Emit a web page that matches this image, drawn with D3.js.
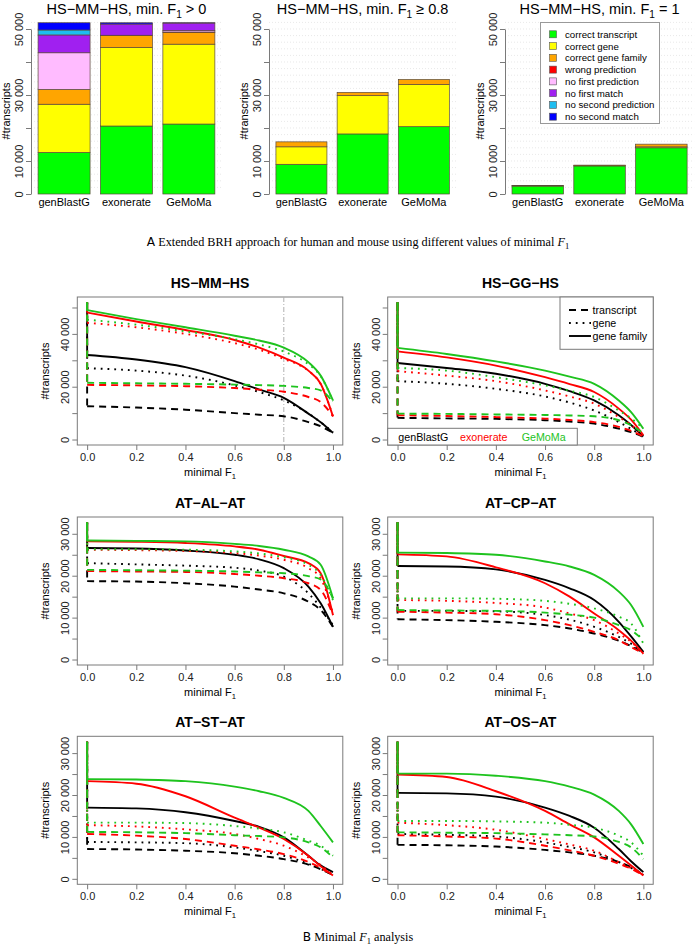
<!DOCTYPE html>
<html>
<head>
<meta charset="utf-8">
<script src="https://cdn.jsdelivr.net/npm/d3@7"></script>
<style>
body { margin: 0; background: #fff; }
svg { display: block; font-family: "Liberation Sans", Arial, sans-serif; }
</style>
</head>
<body>
<svg id="fig" width="697" height="946"></svg>
<script>
// ---- data (values in thousands of transcripts) ----
const methods = ["genBlastG", "exonerate", "GeMoMa"];
const methodColors = ["#000000", "#ff0000", "#1ec31e"];

const categories = ["correct transcript", "correct gene", "correct gene family", "wrong prediction",
    "no first prediction", "no first match", "no second prediction", "no second match"];
const catColors = ["#00ff00", "#ffff00", "#ffa500", "#ff0000", "#ffbbff", "#a020f0", "#1ebdf0", "#0000ff"];

// stacked segments per method, in category order
const barsMin0 = [
    [12.6, 14.6, 4.5, 0, 11.1, 5.4, 1.5, 2.2],
    [20.6, 23.8, 3.6, 0.1, 0, 3.4, 0, 0.4],
    [21.2, 24.2, 3.6, 0.1, 0.4, 2.3, 0, 0.1]
];
const barsMin08 = [
    [9.0, 5.3, 1.5],
    [18.2, 11.6, 1.0],
    [20.4, 12.8, 1.5]
];
const barsMin1 = [
    [2.4, 0.1, 0.1],
    [8.5, 0.1, 0.15],
    [14.0, 0.3, 0.8]
];
const barTicks = [0, 10, 20, 30, 40, 50];
const barTickLabels = [0, 10, 30, 50];
const barGrid = d3.range(2, 53, 2);

const lineTypes = ["transcript", "gene", "gene family"];
const f1Grid = [0, 0.2, 0.4, 0.6, 0.7, 0.8, 0.9, 0.95, 1.0];
const f1Ticks = [0, 0.2, 0.4, 0.6, 0.8, 1.0];

const panelTitles = ["HS−MM−HS", "HS−GG−HS", "AT−AL−AT", "AT−CP−AT", "AT−ST−AT", "AT−OS−AT"];
const panelTotals = [51.9, 51.9, 32.7, 32.7, 32.7, 32.7];
const hsTicks = [0, 10, 20, 30, 40, 50];
const hsTickLabels = [0, 20, 40];
const atTicks = [0, 5, 10, 15, 20, 25, 30];
const atTickLabels = [0, 10, 20, 30];

// rows: genBlastG, exonerate, GeMoMa ; columns follow f1Grid
const hsmmTranscript = [
    [12.6, 12.1, 11.3, 10.0, 9.4, 8.8, 6.6, 5.0, 2.5],
    [20.7, 20.5, 20.2, 19.5, 18.9, 18.1, 16.1, 14.2, 8.8],
    [21.5, 21.3, 21.1, 20.8, 20.6, 20.3, 19.5, 18.6, 14.2]
];
const hsmmGene = [
    [27.0, 26.1, 24.2, 20.5, 18.0, 14.8, 9.9, 6.5, 2.8],
    [44.2, 42.5, 40.0, 36.5, 34.0, 30.5, 26.0, 21.0, 8.8],
    [45.4, 43.5, 41.0, 38.0, 36.0, 33.3, 28.5, 24.0, 14.5]
];
const hsmmFamily = [
    [32.0, 30.3, 27.4, 22.1, 18.9, 15.8, 9.8, 6.5, 2.5],
    [48.1, 44.7, 41.5, 37.7, 34.8, 31.0, 26.1, 21.1, 8.7],
    [49.0, 45.6, 42.5, 39.3, 37.5, 34.8, 29.3, 24.2, 14.8]
];

const hsggTranscript = [
    [8.2, 8.0, 7.8, 7.3, 6.8, 6.0, 4.1, 2.8, 1.0],
    [9.2, 8.9, 8.5, 7.9, 7.4, 6.6, 4.8, 3.3, 1.2],
    [9.8, 9.7, 9.5, 9.3, 9.1, 8.8, 7.3, 5.4, 2.3]
];
const hsggGene = [
    [22.1, 21.1, 19.2, 16.3, 14.0, 11.0, 6.6, 4.0, 1.2],
    [25.9, 24.2, 22.1, 18.6, 16.3, 13.6, 8.5, 5.5, 1.6],
    [27.1, 26.1, 23.6, 20.5, 18.5, 16.1, 11.0, 8.0, 4.1]
];
const hsggFamily = [
    [29.0, 27.1, 24.9, 21.1, 18.3, 14.8, 9.2, 5.5, 1.2],
    [33.4, 31.1, 28.0, 23.6, 21.0, 18.0, 11.7, 7.5, 1.6],
    [34.7, 32.4, 29.6, 26.1, 23.8, 21.1, 14.8, 10.4, 4.1]
];

const atalTranscript = [
    [18.7, 18.6, 18.2, 17.4, 16.7, 15.8, 13.8, 11.8, 7.8],
    [21.1, 21.0, 20.9, 20.4, 20.0, 19.4, 18.2, 16.6, 10.6],
    [21.4, 21.3, 21.2, 21.0, 20.8, 20.6, 19.9, 19.1, 14.6]
];
const atalGene = [
    [23.0, 22.7, 22.4, 21.9, 21.2, 19.8, 15.8, 12.4, 8.2],
    [26.2, 26.1, 25.9, 25.4, 24.8, 23.8, 21.8, 19.4, 11.0],
    [26.3, 26.3, 26.2, 25.8, 25.3, 24.4, 22.6, 20.2, 14.2]
];
const atalFamily = [
    [26.6, 26.5, 26.0, 25.0, 23.9, 21.8, 17.4, 13.4, 7.8],
    [28.2, 28.1, 27.8, 27.0, 26.2, 24.7, 23.0, 20.6, 10.6],
    [28.4, 28.3, 28.2, 27.6, 27.1, 26.2, 24.6, 22.6, 14.6]
];

const atcpTranscript = [
    [9.6, 9.4, 9.0, 8.2, 7.4, 6.2, 4.5, 3.2, 1.6],
    [11.4, 11.2, 10.8, 9.4, 8.2, 6.6, 4.6, 3.0, 1.4],
    [11.8, 11.7, 11.6, 11.2, 10.7, 10.0, 8.2, 7.0, 4.6]
];
const atcpGene = [
    [11.6, 11.6, 11.5, 10.6, 9.5, 7.8, 5.4, 3.8, 1.8],
    [14.2, 14.0, 13.5, 12.4, 11.0, 9.4, 6.2, 4.2, 1.4],
    [14.6, 14.6, 14.5, 14.0, 13.3, 12.2, 10.2, 8.6, 3.8]
];
const atcpFamily = [
    [22.3, 22.2, 21.5, 19.0, 17.0, 14.2, 9.0, 5.5, 1.8],
    [25.1, 24.6, 22.0, 18.2, 15.0, 11.0, 7.0, 4.5, 1.4],
    [25.5, 25.4, 25.0, 23.4, 22.2, 20.2, 16.2, 13.0, 7.8]
];

const atstTranscript = [
    [7.1, 7.0, 6.7, 6.1, 5.5, 4.7, 3.4, 2.3, 0.9],
    [10.7, 10.3, 9.5, 7.9, 7.0, 5.9, 4.0, 2.6, 0.8],
    [11.2, 11.1, 10.9, 10.4, 10.2, 9.9, 8.7, 7.5, 5.1]
];
const atstGene = [
    [8.8, 8.7, 8.5, 7.5, 6.6, 5.5, 3.6, 2.4, 0.9],
    [12.8, 12.5, 11.8, 10.7, 9.5, 7.9, 5.1, 3.3, 0.9],
    [13.4, 13.4, 13.3, 12.6, 12.0, 11.1, 9.1, 7.9, 5.5]
];
const atstFamily = [
    [17.0, 16.8, 15.9, 13.8, 12.4, 9.9, 5.5, 3.2, 1.6],
    [23.3, 22.7, 19.7, 14.6, 12.2, 9.5, 5.5, 3.0, 0.8],
    [23.8, 23.7, 23.3, 22.0, 20.9, 19.3, 16.2, 12.6, 8.7]
];

const atosTranscript = [
    [8.1, 8.0, 7.7, 6.9, 6.3, 5.5, 4.0, 2.8, 0.9],
    [10.4, 10.1, 9.6, 7.9, 6.8, 5.5, 3.6, 2.4, 0.8],
    [11.1, 11.0, 10.9, 10.6, 10.4, 10.1, 8.8, 7.5, 4.7]
];
const atosGene = [
    [10.7, 10.5, 10.1, 8.7, 7.6, 6.3, 4.0, 2.6, 0.9],
    [13.4, 12.8, 11.7, 9.5, 8.2, 6.7, 4.0, 2.6, 0.9],
    [13.8, 13.8, 13.7, 13.4, 12.9, 12.2, 10.3, 8.7, 5.5]
];
const atosFamily = [
    [20.5, 20.4, 19.6, 17.0, 15.0, 12.2, 7.1, 4.2, 1.6],
    [24.9, 24.3, 20.9, 16.2, 13.0, 9.9, 5.5, 3.2, 0.8],
    [25.1, 25.1, 24.6, 23.3, 22.0, 20.1, 16.2, 13.0, 8.3]
];

// ---- drawing ----
const fig = d3.select("#fig");
const fmtK = v => d3.format(",")(Math.round(v * 1000)).replace(/,/g, " ");
const axisCol = "#7a7a7a";

// text with a subscript "1" after an F
function addParts(sel, parts, size) {
    parts.forEach(p => {
        const t = sel.append("tspan").text(p.t);
        if (p.sub) {
            t.attr("font-size", size * 0.7).attr("dy", size * 0.28);
        } else if (p.after) {
            t.attr("dy", -size * 0.28);
        }
        if (p.italic) t.attr("font-style", "italic");
        if (p.font) t.attr("font-family", p.font);
    });
}

function styleAxis(ax, size) {
    ax.attr("font-family", null).attr("font-size", size);
    ax.select(".domain").attr("stroke", axisCol);
    ax.selectAll(".tick line").attr("stroke", axisCol);
    ax.selectAll(".tick text").attr("fill", "#222");
}

function barChart(axisX, unit, titleParts, data) {
    const x = d3.scaleLinear().domain([0.064, 3.736]).range([axisX, axisX + 3.672 * unit]);
    const y = d3.scaleLinear().domain([0, 50]).range([194, 29]);
    const g = fig.append("g");

    g.selectAll("line.grid").data(barGrid).join("line")
        .attr("x1", x(0.064)).attr("x2", x(3.736))
        .attr("y1", d => y(d)).attr("y2", d => y(d))
        .attr("stroke", "#d9d9d9").attr("stroke-width", 0.6)
        .attr("stroke-dasharray", "1,2");

    data.forEach((segs, i) => {
        const left = 0.2 + i * 1.2;
        const tops = d3.cumsum(segs);
        g.selectAll(null)
            .data(segs.map((v, k) => ({ v: v, k: k, top: tops[k] })).filter(d => d.v > 0))
            .join("rect")
            .attr("x", x(left))
            .attr("width", x(left + 1) - x(left))
            .attr("y", d => y(d.top))
            .attr("height", d => y(d.top - d.v) - y(d.top))
            .attr("fill", d => catColors[d.k])
            .attr("stroke", "#5a4a3a").attr("stroke-width", 0.7);
        g.append("text")
            .attr("x", x(left + 0.5)).attr("y", 206)
            .attr("text-anchor", "middle").attr("font-size", 11)
            .text(methods[i]);
    });

    const ax = g.append("g").attr("transform", `translate(${axisX},0)`)
        .call(d3.axisLeft(y).tickValues(barTicks).tickSize(5).tickSizeOuter(0)
            .tickFormat(d => barTickLabels.includes(d) ? fmtK(d) : ""));
    styleAxis(ax, 11);
    ax.selectAll(".tick text")
        .attr("transform", "rotate(-90)")
        .attr("x", 0).attr("y", -8).attr("dy", 0)
        .attr("text-anchor", "middle");

    g.append("text")
        .attr("transform", `translate(${axisX - 21},111) rotate(-90)`)
        .attr("text-anchor", "middle").attr("font-size", 11)
        .text("#transcripts");

    const title = g.append("text")
        .attr("x", (x.range()[0] + x.range()[1]) / 2).attr("y", 14)
        .attr("text-anchor", "middle").attr("font-size", 14.5);
    addParts(title, titleParts, 14.5);
    return x;
}

barChart(31, 52, [{ t: "HS−MM−HS, min. F" }, { t: "1", sub: true }, { t: " >  0", after: true }], barsMin0);
barChart(269, 51, [{ t: "HS−MM−HS, min. F" }, { t: "1", sub: true }, { t: " ≥  0.8", after: true }], barsMin08);
barChart(505, 51.5, [{ t: "HS−MM−HS, min. F" }, { t: "1", sub: true }, { t: " =  1", after: true }], barsMin1);

// category legend in the third bar chart
const leg = fig.append("g");
leg.append("rect").attr("x", 540.5).attr("y", 22.5).attr("width", 119).attr("height", 101)
    .attr("fill", "#fff").attr("stroke", "#999");
leg.selectAll("rect.sw").data(categories).join("rect")
    .attr("x", 549.5).attr("y", (d, i) => 30.8 + i * 11.77)
    .attr("width", 7).attr("height", 7)
    .attr("fill", (d, i) => catColors[i]).attr("stroke", "#555").attr("stroke-width", 0.6);
leg.selectAll("text").data(categories).join("text")
    .attr("x", 565).attr("y", (d, i) => 37.8 + i * 11.77)
    .attr("font-size", 9.7).text(d => d);

// caption A
const capA = fig.append("text").attr("x", 358).attr("y", 246).attr("text-anchor", "middle")
    .attr("font-family", "'Liberation Serif', 'Times New Roman', serif").attr("font-size", 12.2);
addParts(capA, [
    { t: "A", font: "'DejaVu Sans', sans-serif" },
    { t: "  Extended BRH approach for human and mouse using different values of minimal " },
    { t: "F", italic: true }, { t: "1", sub: true }
], 12.2);

// ---- line panels ----
const panelSeries = [
    [hsmmTranscript, hsmmGene, hsmmFamily],
    [hsggTranscript, hsggGene, hsggFamily],
    [atalTranscript, atalGene, atalFamily],
    [atcpTranscript, atcpGene, atcpFamily],
    [atstTranscript, atstGene, atstFamily],
    [atosTranscript, atosGene, atosFamily]
];
const dashes = ["7,5", "1.8,5", null];
const colLeft = [77.3, 387.7];
const rowTop = [297, 517, 736.3];
const boxW = 265.5, boxH = 148;

function linePanel(p) {
    const left = colLeft[p % 2], top = rowTop[Math.floor(p / 2)];
    const total = panelTotals[p];
    const isHS = p < 2;
    const x = d3.scaleLinear().domain([-0.04, 1.04]).range([left, left + boxW]);
    const y = d3.scaleLinear().domain([-0.04 * total, 1.04 * total]).range([top + boxH, top]);
    const g = fig.append("g");

    g.append("rect").attr("x", left).attr("y", top).attr("width", boxW).attr("height", boxH)
        .attr("fill", "none").attr("stroke", axisCol);

    const ax = g.append("g").attr("transform", `translate(0,${top + boxH})`)
        .call(d3.axisBottom(x).tickValues(f1Ticks).tickSize(5).tickSizeOuter(0).tickFormat(d3.format(".1f")));
    styleAxis(ax, 11);
    ax.select(".domain").remove();
    ax.selectAll(".tick text").attr("y", 8);

    const ticks = isHS ? hsTicks : atTicks;
    const labels = isHS ? hsTickLabels : atTickLabels;
    const ay = g.append("g").attr("transform", `translate(${left},0)`)
        .call(d3.axisLeft(y).tickValues(ticks).tickSize(5).tickSizeOuter(0)
            .tickFormat(d => labels.includes(d) ? fmtK(d) : ""));
    styleAxis(ay, 11);
    ay.select(".domain").remove();
    ay.selectAll(".tick text")
        .attr("transform", "rotate(-90)")
        .attr("x", 0).attr("y", -8).attr("dy", 0)
        .attr("text-anchor", "middle");

    g.append("text")
        .attr("transform", `translate(${left - 28},${top + boxH / 2}) rotate(-90)`)
        .attr("text-anchor", "middle").attr("font-size", 11)
        .text("#transcripts");

    const xl = g.append("text").attr("x", left + boxW / 2).attr("y", top + boxH + 31)
        .attr("text-anchor", "middle").attr("font-size", 11);
    addParts(xl, [{ t: "minimal F" }, { t: "1", sub: true }], 11);

    g.append("text").attr("x", left + boxW / 2).attr("y", top - 9)
        .attr("text-anchor", "middle").attr("font-size", 14).attr("font-weight", "bold")
        .text(panelTitles[p]);

    if (p === 0) {
        g.append("line").attr("x1", x(0.8)).attr("x2", x(0.8))
            .attr("y1", top).attr("y2", top + boxH)
            .attr("stroke", "#b0b0b0").attr("stroke-width", 1)
            .attr("stroke-dasharray", "5,2,1,2");
    }

    const line = d3.line().x((d, i) => x(f1Grid[i])).y(d => y(d)).curve(d3.curveMonotoneX);
    methods.forEach((m, mi) => {
        panelSeries[p].forEach((typeRows, ti) => {
            const vals = typeRows[mi];
            g.append("line")
                .attr("x1", x(0)).attr("x2", x(0))
                .attr("y1", y(total)).attr("y2", y(vals[0]))
                .attr("stroke", methodColors[mi]).attr("stroke-width", 1.9)
                .attr("stroke-dasharray", dashes[ti]);
            g.append("path").attr("d", line(vals))
                .attr("fill", "none")
                .attr("stroke", methodColors[mi]).attr("stroke-width", 1.9)
                .attr("stroke-dasharray", dashes[ti]);
        });
    });

    if (p === 1) {
        const lg = g.append("g");
        lg.append("rect").attr("x", 560).attr("y", top).attr("width", left + boxW - 560).attr("height", 52.3)
            .attr("fill", "#fff").attr("stroke", axisCol);
        lineTypes.forEach((t, ti) => {
            const yy = 310 + ti * 13;
            lg.append("line").attr("x1", 569).attr("x2", 591).attr("y1", yy).attr("y2", yy)
                .attr("stroke", "#000").attr("stroke-width", 1.9).attr("stroke-dasharray", dashes[ti]);
            lg.append("text").attr("x", 592.5).attr("y", yy + 3.8).attr("font-size", 10.7).text(t);
        });
        const mg = g.append("g");
        mg.append("rect").attr("x", left).attr("y", 428.3).attr("width", 577.3 - left).attr("height", top + boxH - 428.3)
            .attr("fill", "#fff").attr("stroke", axisCol);
        const mx = [398.3, 460, 521.7];
        methods.forEach((m, mi) => {
            mg.append("text").attr("x", mx[mi]).attr("y", 441).attr("font-size", 10.7)
                .attr("fill", methodColors[mi]).text(m);
        });
    }
}

panelTitles.forEach((t, p) => linePanel(p));

// caption B
const capB = fig.append("text").attr("x", 358).attr("y", 941).attr("text-anchor", "middle")
    .attr("font-family", "'Liberation Serif', 'Times New Roman', serif").attr("font-size", 12.2);
addParts(capB, [
    { t: "B", font: "'DejaVu Sans', sans-serif" },
    { t: "  Minimal " }, { t: "F", italic: true }, { t: "1", sub: true },
    { t: " analysis", after: true }
], 12.2);
</script>
</body>
</html>
